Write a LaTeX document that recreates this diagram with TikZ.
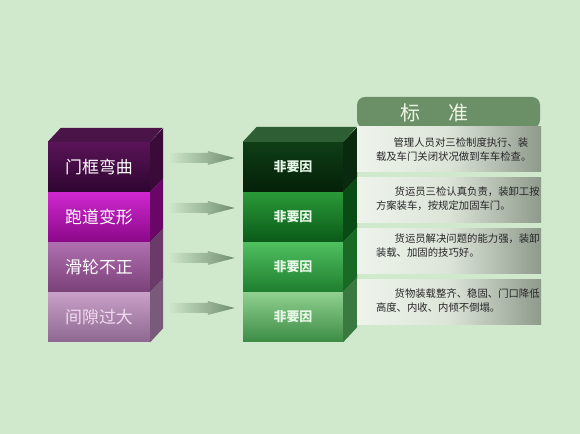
\documentclass[tikz,border=0pt]{standalone}
\usepackage{fontspec}
\newfontfamily\cjk{Noto Sans CJK SC}
\definecolor{bg}{HTML}{D0E8CC}
\definecolor{headgreen}{HTML}{6B9068}
\definecolor{headtext}{HTML}{EEF4E4}
\definecolor{c1t}{HTML}{5A1458}\definecolor{c1b}{HTML}{2E0530}\definecolor{c1s}{HTML}{3A0A38}
\definecolor{c2t}{HTML}{D028D0}\definecolor{c2b}{HTML}{8A0888}\definecolor{c2s}{HTML}{6A0668}
\definecolor{c3t}{HTML}{B070B0}\definecolor{c3b}{HTML}{7A4078}\definecolor{c3s}{HTML}{6A3A68}
\definecolor{c4t}{HTML}{C8A0C8}\definecolor{c4b}{HTML}{8E6890}\definecolor{c4s}{HTML}{7A5A7A}
\definecolor{c4text}{HTML}{F0DCF0}
\definecolor{ctop}{HTML}{4A1448}
\definecolor{g1t}{HTML}{0E3E16}\definecolor{g1b}{HTML}{052008}\definecolor{g1s}{HTML}{0A2A10}
\definecolor{g2t}{HTML}{2A9A38}\definecolor{g2b}{HTML}{0A5A18}\definecolor{g2s}{HTML}{0A4A14}
\definecolor{g3t}{HTML}{50C060}\definecolor{g3b}{HTML}{1E7E2E}\definecolor{g3s}{HTML}{1A6A26}
\definecolor{g4t}{HTML}{90D090}\definecolor{g4b}{HTML}{3C8C44}\definecolor{g4s}{HTML}{3A7A40}
\definecolor{gtop}{HTML}{2E5E34}
\definecolor{judgetext}{HTML}{E8F8E8}
\definecolor{arrowgray}{HTML}{708E6E}
\definecolor{stdL}{HTML}{EEF4EC}\definecolor{stdM}{HTML}{DCE4D8}\definecolor{stdR}{HTML}{8E9A8C}

\begin{document}
\begin{tikzpicture}[x=1bp,y=1bp,
  cause/.style={minimum width=102bp,minimum height=50bp,inner sep=0pt,
    text=white,font=\cjk\fontsize{17}{17}\selectfont},
  judge/.style={minimum width=100bp,minimum height=50bp,inner sep=0pt,
    text=judgetext,font=\cjk\bfseries\fontsize{13}{13}\selectfont},
  header/.style={fill=headgreen,rounded corners=8bp,minimum width=183bp,
    minimum height=31bp,inner sep=0pt,text=headtext,font=\cjk\fontsize{20}{20}\selectfont},
  stdbox/.style={minimum width=184bp,minimum height=45bp,inner sep=0pt,
    left color=stdL,right color=stdR,middle color=stdM},
  stdtext/.style={anchor=west,text width=160bp,align=left,inner sep=0pt,
    text=black!85,font=\cjk\fontsize{10.4}{13.5}\selectfont}]
\fill[bg] (0,0) rectangle (580,434);

% causes
\node[cause,top color=c4t,bottom color=c4b,text=c4text] (cause4) at (99,117) {间隙过大};
\node[cause,top color=c3t,bottom color=c3b] (cause3) at (99,167) {滑轮不正};
\node[cause,top color=c2t,bottom color=c2b] (cause2) at (99,217) {跑道变形};
\node[cause,top color=c1t,bottom color=c1b] (cause1) at (99,267) {门框弯曲};
\foreach \i/\s in {1/c1s,2/c2s,3/c3s,4/c4s}
  \fill[\s] (cause\i.south east) -- ++(13,14) -- ++(0,50) -- (cause\i.north east) -- cycle;
\fill[ctop] (cause1.north west) -- ++(13,14) -- ++(102,0) -- (cause1.north east) -- cycle;

% judgements
\node[judge,top color=g4t,bottom color=g4b] (judge4) at (293,117) {非要因};
\node[judge,top color=g3t,bottom color=g3b] (judge3) at (293,167) {非要因};
\node[judge,top color=g2t,bottom color=g2b] (judge2) at (293,217) {非要因};
\node[judge,top color=g1t,bottom color=g1b] (judge1) at (293,267) {非要因};
\foreach \i/\s in {1/g1s,2/g2s,3/g3s,4/g4s}
  \fill[\s] (judge\i.south east) -- ++(14,15) -- ++(0,50) -- (judge\i.north east) -- cycle;
\fill[gtop] (judge1.north west) -- ++(14,15) -- ++(100,0) -- (judge1.north east) -- cycle;

% arrows
\foreach \i in {1,...,4}
  \shade[left color=bg,right color=arrowgray]
    ([xshift=18bp,yshift=14bp]cause\i.east) -- ([xshift=-35bp,yshift=14bp]judge\i.west)
    -- ([xshift=-35bp,yshift=16bp]judge\i.west) -- ([xshift=-8bp,yshift=9bp]judge\i.west)
    -- ([xshift=-35bp,yshift=2bp]judge\i.west) -- ([xshift=-35bp,yshift=4bp]judge\i.west)
    -- ([xshift=18bp,yshift=4bp]cause\i.east) -- cycle;

% standards
\node[header] (head) at (448.5,321.5) {\hspace*{-28bp}标\hspace{28bp}准};
\node[stdbox] (std1) at (449,284.5) {};
\node[stdbox] (std2) at (449,233.5) {};
\node[stdbox] (std3) at (449,182.5) {};
\node[stdbox] (std4) at (449,131.5) {};
\node[stdtext] (txt1) at ([xshift=19bp]std1.west) {\hspace*{1.7em}管理人员对三检制度执行、装\\载及车门关闭状况做到车车检查。};
\node[stdtext] (txt2) at ([xshift=19bp,yshift=2bp]std2.west) {\hspace*{1.8em}货运员三检认真负责，装卸工按\\方案装车，按规定加固车门。};
\node[stdtext] (txt3) at ([xshift=19bp,yshift=6bp]std3.west) {\hspace*{1.8em}货运员解决问题的能力强，装卸\\装载、加固的技巧好。};
\node[stdtext] (txt4) at ([xshift=19bp,yshift=2bp]std4.west) {\hspace*{1.8em}货物装载整齐、稳固、门口降低\\高度、内收、内倾不倒塌。};
\end{tikzpicture}
\end{document}
